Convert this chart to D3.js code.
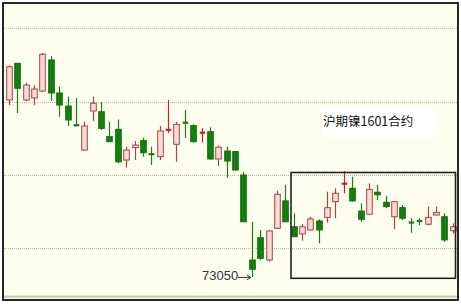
<!DOCTYPE html>
<html>
<head>
<meta charset="utf-8">
<script src="https://cdn.jsdelivr.net/npm/d3@7"></script>
<style>
html,body{margin:0;padding:0;background:#ffffff;}
svg{display:block;}
</style>
</head>
<body>
<svg id="chart" width="461" height="304"></svg>
<script>
// ---- data (沪期镍1601 daily candles) ----
const opens  = [85110,87610,85110,85250,85720,87840,85590,84700,83450,81700,84360,84310,82610,83110,81020,81860,82340,81480,81250,83020,82090,83630,83360,82810,82950,81090,81630,81590,80000,74200,75720,74200,76360,78230,76470,75980,76250,76860,77110,78180,79380,79090,77540,77320,78820,78140,77150,77770,76810,76930,76640,77270,77150,76200];
const highs  = [87460,87630,86270,86130,88320,88110,86020,85340,85250,83630,85340,84970,83630,83780,81930,82320,82540,81930,83340,85110,83630,84430,83450,83180,83250,82000,81930,81630,80200,76810,76250,76250,78930,79320,77390,76660,77150,76980,78860,79090,80270,79880,78070,79430,79320,78570,78230,77950,77050,77050,77840,77840,77390,76700];
const lows   = [84770,84220,85040,84770,85650,85040,83970,83340,83310,81670,83680,83070,82250,80820,80500,81020,81250,80680,81020,82860,80900,82540,82200,82200,81050,80610,79810,80300,76790,73050,74200,74090,76320,76790,75770,75520,76210,75340,76750,77050,78750,78190,76810,77270,78290,77730,76300,76930,76060,76590,76570,77240,75450,76020];
const closes = [87380,85910,86130,85860,88230,85590,84770,83750,83340,83340,84890,83180,82270,80900,81700,82040,81520,81360,83000,83130,83450,83500,82270,82950,81090,81890,80950,80340,76810,73570,74320,76180,78680,76810,75790,76470,77000,76250,77770,78750,79430,78230,76980,79020,78650,77840,78180,77050,76700,76790,77110,77450,75570,76470];
const days = opens.map((_, i) => "D" + (i + 1));
const gridLevels = [75000, 80000, 85000, 90000];
const titleText = "沪期镍1601合约";
const lowLabel = "73050";
const lowIndex = 29;

const candles = days.map((d, i) => ({day: d, o: opens[i], h: highs[i], l: lows[i], c: closes[i]}));

const svg = d3.select("#chart");
const W = 461, H = 304;

// background
svg.append("rect").attr("x", 0).attr("y", 0).attr("width", W).attr("height", H).attr("fill", "#ffffff");
svg.append("rect").attr("x", 3).attr("y", 3).attr("width", 455).attr("height", 297).attr("fill", "#fefeee");

const x = d3.scalePoint().domain(days).range([9, 452.7]);
const y = d3.scaleLinear().domain([75000, 90000]).range([248.3, 28.3]);

// grid lines
svg.append("g").selectAll("line").data(gridLevels).join("line")
  .attr("x1", 4).attr("x2", 457)
  .attr("y1", d => Math.round(y(d)) + 0.5).attr("y2", d => Math.round(y(d)) + 0.5)
  .attr("stroke", "#b9b9a8").attr("stroke-width", 1).attr("stroke-dasharray", "1,1");

// bottom gray strip
svg.append("rect").attr("x", 3).attr("y", 295.5).attr("width", 455).attr("height", 2.2).attr("fill", "#c9c9b8");

const bw = 5.6;
const up = d => d.c >= d.o;
const isCross = d => Math.abs(y(d.o) - y(d.c)) < 2.2;

const g = svg.append("g");
// wicks
g.selectAll("line.wick").data(candles).join("line").attr("class", "wick")
  .attr("x1", d => Math.round(x(d.day)) + 0.5).attr("x2", d => Math.round(x(d.day)) + 0.5)
  .attr("y1", d => y(d.h)).attr("y2", d => y(d.l))
  .attr("stroke", d => up(d) ? (isCross(d) ? "#c42020" : "#a54444") : "#1a7f1a")
  .attr("stroke-width", 1.2);

// bodies
g.selectAll("rect.body").data(candles).join("rect").attr("class", "body")
  .attr("x", d => Math.round(x(d.day)) + 0.5 - bw / 2)
  .attr("width", bw)
  .attr("y", d => isCross(d) ? (y(d.o) + y(d.c)) / 2 - 1.1 : y(Math.max(d.o, d.c)))
  .attr("height", d => isCross(d) ? 2.2 : Math.abs(y(d.o) - y(d.c)))
  .attr("fill", d => up(d) ? (isCross(d) ? "#c42020" : "#fbdcd4") : "#12800f")
  .attr("stroke", d => up(d) ? (isCross(d) ? "none" : "#a54444") : (isCross(d) ? "none" : "#0f6d0f"))
  .attr("stroke-width", 1);

// annotation box
svg.append("rect").attr("x", 291).attr("y", 172.5).attr("width", 164.5).attr("height", 105.8)
  .attr("fill", "none").attr("stroke", "#222").attr("stroke-width", 1.6);

// title label with white background
svg.append("rect").attr("x", 322).attr("y", 108).attr("width", 113).attr("height", 30).attr("fill", "#ffffff");
svg.append("text").attr("x", 323).attr("y", 123)
  .attr("font-family", "'Noto Sans CJK SC', sans-serif").attr("font-size", 12.5)
  .attr("dominant-baseline", "middle").attr("fill", "#111")
  .text(titleText);

// low label with arrow
const lowX = x(days[lowIndex]);
const lowY = y(lows[lowIndex]);
svg.append("text").attr("x", 202).attr("y", lowY)
  .attr("font-family", "'Liberation Sans', Arial, sans-serif").attr("font-size", 13)
  .attr("dominant-baseline", "middle").attr("fill", "#333")
  .text(lowLabel);
svg.append("line").attr("x1", 238).attr("x2", lowX - 1).attr("y1", lowY + 0.5).attr("y2", lowY + 0.5)
  .attr("stroke", "#333").attr("stroke-width", 1);
svg.append("path").attr("d", `M${lowX - 1},${lowY + 0.5} l-4,-2.5 M${lowX - 1},${lowY + 0.5} l-4,2.5`)
  .attr("stroke", "#333").attr("stroke-width", 1).attr("fill", "none");

// outer frame
svg.append("rect").attr("x", 3).attr("y", 3).attr("width", 455).attr("height", 297)
  .attr("fill", "none").attr("stroke", "#111").attr("stroke-width", 1.8);
</script>
</body>
</html>
